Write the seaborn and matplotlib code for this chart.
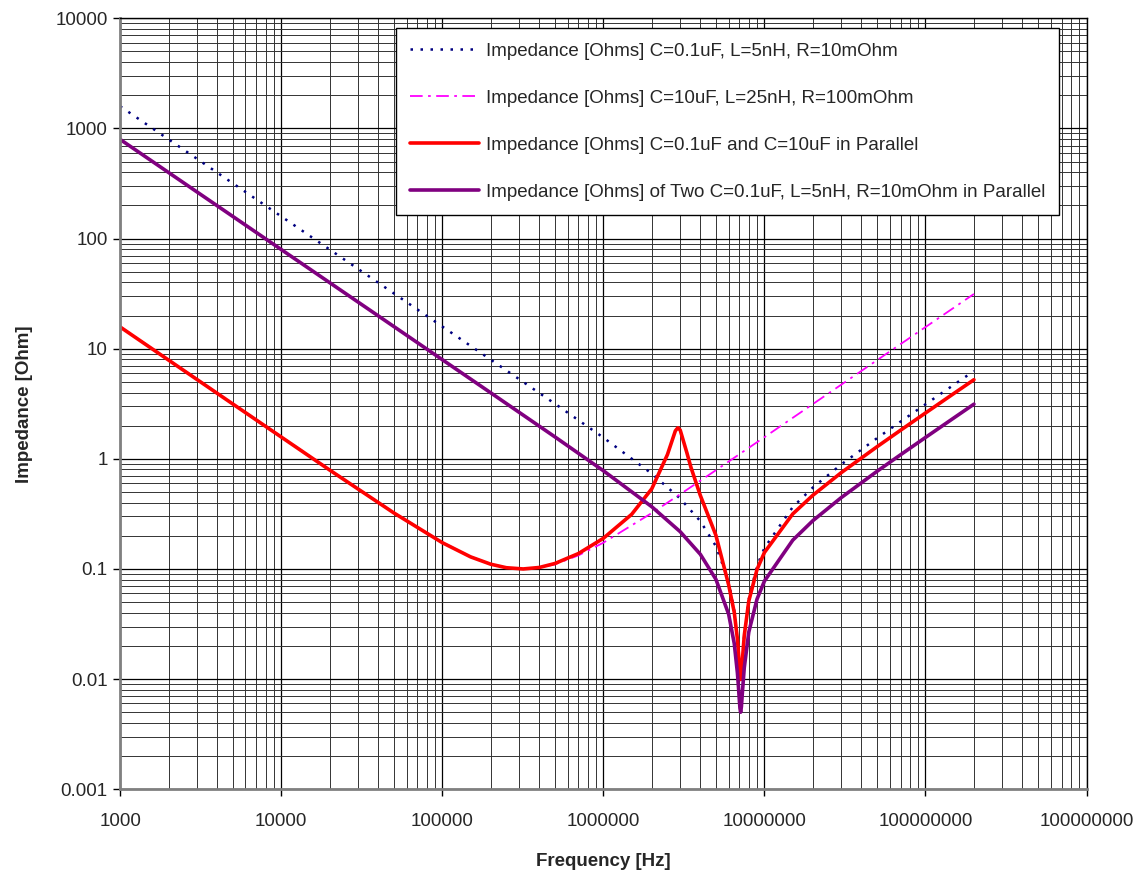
import numpy as np
import pandas as pd
import seaborn as sns
import matplotlib.pyplot as plt
from matplotlib.ticker import FixedLocator, LogLocator, NullFormatter

# frequencies [Hz] and impedances [Ohm]
freq_a = [1e3, 2e3, 5e3, 1e4, 2e4, 5e4, 1e5, 2e5, 5e5, 1e6, 2e6, 3e6, 4e6, 5e6,
          6e6, 6.5e6, 6.8e6, 6.9e6, 7e6, 7.05e6, 7.12e6, 7.2e6, 7.3e6, 7.5e6, 8e6,
          9e6, 1e7, 1.5e7, 2e7, 3e7, 5e7, 7e7, 1e8, 1.5e8, 2e8]
z_small = [1591.5, 795.8, 318.3, 159.2, 79.6, 31.83, 15.91, 7.95, 3.167, 1.560,
           0.733, 0.436, 0.272, 0.161, 0.0775, 0.0419, 0.0227, 0.0171, 0.0125,
           0.01087, 0.0100, 0.01125, 0.0151, 0.0254, 0.0533, 0.1064, 0.155, 0.365,
           0.549, 0.889, 1.539, 2.176, 3.126, 4.702, 6.275]
z_two_small = [795.8, 397.9, 159.2, 79.6, 39.8, 15.92, 7.955, 3.975, 1.584, 0.780,
               0.367, 0.218, 0.136, 0.0805, 0.0388, 0.0210, 0.01135, 0.00855,
               0.00625, 0.00544, 0.0050, 0.00563, 0.00755, 0.0127, 0.0267, 0.0532,
               0.0775, 0.1825, 0.2745, 0.4445, 0.7695, 1.088, 1.563, 2.351, 3.1375]

freq_b = [1e3, 2e3, 5e3, 1e4, 2e4, 5e4, 1e5, 1.5e5, 2e5, 2.5e5, 3.18e5, 4e5, 5e5,
          7e5, 1e6, 2e6, 3e6, 5e6, 7e6, 1e7, 2e7, 5e7, 1e8, 2e8]
z_big = [15.92, 7.958, 3.183, 1.595, 0.799, 0.326, 0.175, 0.1296, 0.111, 0.1029,
         0.100, 0.1026, 0.110, 0.1327, 0.173, 0.322, 0.477, 0.788, 1.102, 1.572,
         3.143, 7.855, 15.71, 31.42]

freq_c = [1e3, 2e3, 5e3, 1e4, 2e4, 5e4, 1e5, 1.5e5, 2e5, 2.5e5, 3.18e5, 4e5, 5e5,
          7e5, 1e6, 1.5e6, 2e6, 2.5e6, 2.8e6, 2.9e6, 3e6, 3.3e6, 3.5e6, 4e6, 5e6,
          6e6, 6.5e6, 6.8e6, 6.9e6, 7.05e6, 7.12e6, 7.2e6, 7.3e6, 7.5e6, 8e6, 9e6,
          1e7, 1.5e7, 2e7, 3e7, 5e7, 7e7, 1e8, 1.5e8, 2e8]
z_parallel = [15.76, 7.88, 3.153, 1.579, 0.791, 0.323, 0.1733, 0.1287, 0.1104,
              0.1026, 0.100, 0.1031, 0.112, 0.1379, 0.1897, 0.3134, 0.535, 1.092,
              1.794, 1.913, 1.826, 1.138, 0.836, 0.466, 0.202, 0.0716, 0.0403,
              0.0231, 0.0174, 0.0109, 0.0099, 0.0111, 0.0149, 0.0249, 0.0511, 0.099,
              0.141, 0.316, 0.467, 0.749, 1.287, 1.817, 2.607, 3.92, 5.23]

x_ticks = [1e3, 1e4, 1e5, 1e6, 1e7, 1e8, 1e9]
x_labels = ['1000', '10000', '100000', '1000000', '10000000', '100000000', '100000000']
y_ticks = [1e-3, 1e-2, 1e-1, 1, 10, 100, 1000, 10000]
y_labels = ['0.001', '0.01', '0.1', '1', '10', '100', '1000', '10000']

sns.set_theme(style="white")
plt.rcParams['font.family'] = ['Liberation Sans', 'DejaVu Sans']

fig, ax = plt.subplots(figsize=(11.33, 8.73), dpi=100)
fig.subplots_adjust(left=0.106, right=0.959, top=0.979, bottom=0.096)

sns.lineplot(x=freq_a, y=z_small, ax=ax, color='#000080', linewidth=1.8,
             linestyle=(0, (1, 3)), sort=False,
             label='Impedance [Ohms] C=0.1uF, L=5nH, R=10mOhm')
sns.lineplot(x=freq_b, y=z_big, ax=ax, color='#FF00FF', linewidth=1.3,
             linestyle=(0, (7, 3, 1.5, 3)), sort=False,
             label='Impedance [Ohms] C=10uF, L=25nH, R=100mOhm')
sns.lineplot(x=freq_c, y=z_parallel, ax=ax, color='#FF0000', linewidth=2.6, sort=False,
             label='Impedance [Ohms] C=0.1uF and C=10uF in Parallel')
sns.lineplot(x=freq_a, y=z_two_small, ax=ax, color='#800080', linewidth=2.6, sort=False,
             label='Impedance [Ohms] of Two C=0.1uF, L=5nH, R=10mOhm in Parallel')

ax.set_xscale('log')
ax.set_yscale('log')
ax.set_xlim(1e3, 1e9)
ax.set_ylim(1e-3, 1e4)

ax.xaxis.set_major_locator(FixedLocator(x_ticks))
ax.set_xticklabels(x_labels)
ax.yaxis.set_major_locator(FixedLocator(y_ticks))
ax.set_yticklabels(y_labels)
ax.xaxis.set_minor_locator(LogLocator(base=10, subs=np.arange(2, 10), numticks=20))
ax.yaxis.set_minor_locator(LogLocator(base=10, subs=np.arange(2, 10), numticks=20))
ax.xaxis.set_minor_formatter(NullFormatter())
ax.yaxis.set_minor_formatter(NullFormatter())

ax.grid(which='major', color='black', linewidth=0.9)
ax.grid(which='minor', color='#333333', linewidth=0.7)
ax.set_axisbelow(True)
ax.tick_params(which='major', direction='out', length=5, width=1, color='black',
               labelsize=13.5, pad=12, left=True, bottom=True)
ax.tick_params(axis='y', pad=4)
ax.tick_params(which='minor', length=0)

for side in ['left', 'bottom']:
    ax.spines[side].set_color('#808080')
    ax.spines[side].set_linewidth(2)
for side in ['top', 'right']:
    ax.spines[side].set_color('black')
    ax.spines[side].set_linewidth(1)

ax.set_xlabel('Frequency [Hz]', fontsize=13.5, fontweight='bold', labelpad=17)
ax.set_ylabel('Impedance [Ohm]', fontsize=13.5, fontweight='bold', labelpad=16)

leg = ax.legend(loc='upper right', bbox_to_anchor=(0.972, 0.987), fontsize=13.5,
                frameon=True, fancybox=False, framealpha=1, edgecolor='black',
                handlelength=3.7, handletextpad=0.35, labelspacing=1.6,
                borderpad=0.75, borderaxespad=0)
leg.get_frame().set_linewidth(1)

plt.savefig('out.png', dpi=100)
